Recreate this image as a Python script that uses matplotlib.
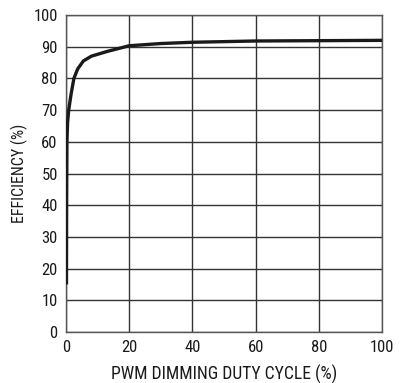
import matplotlib
matplotlib.use('Agg')
import matplotlib.pyplot as plt

# Efficiency vs PWM dimming duty cycle
duty = [0.15, 0.2, 0.3, 0.5, 0.85, 1.6, 2.5, 3.7, 5.5, 8, 13, 20, 30, 40, 60, 80, 100]
efficiency = [15, 40, 60, 66, 70, 75, 80, 83, 85.5, 87, 88.5, 90.3, 91.0, 91.4, 91.8, 91.9, 92.0]

x_ticks = [0, 20, 40, 60, 80, 100]
y_ticks = [0, 10, 20, 30, 40, 50, 60, 70, 80, 90, 100]

# condensed font, close to the datasheet's Helvetica Condensed
plt.rcParams['font.family'] = ['Roboto Condensed', 'Archivo Narrow', 'DejaVu Sans']

fig = plt.figure(figsize=(4.04, 3.83), dpi=100)
ax = fig.add_axes([66 / 404, 1 - 332 / 383, 316 / 404, 317 / 383])

ax.plot(duty, efficiency, color='#1a1a1a', linewidth=2.4, solid_capstyle='butt', zorder=3)

ax.set_xlim(0, 100)
ax.set_ylim(0, 100)
ax.set_xticks(x_ticks)
ax.set_yticks(y_ticks)
ax.grid(True, color='#333333', linewidth=1.0)
ax.tick_params(length=0, labelsize=12, pad=6, colors='#1a1a1a')
for s in ax.spines.values():
    s.set_color('#555555')
    s.set_linewidth(1.0)

ax.set_xlabel('PWM DIMMING DUTY CYCLE (%)', fontsize=12.7, color='#1a1a1a', labelpad=7)
ax.set_ylabel('EFFICIENCY (%)', fontsize=11.5, color='#1a1a1a', labelpad=4)

plt.savefig('out.png', dpi=100)
